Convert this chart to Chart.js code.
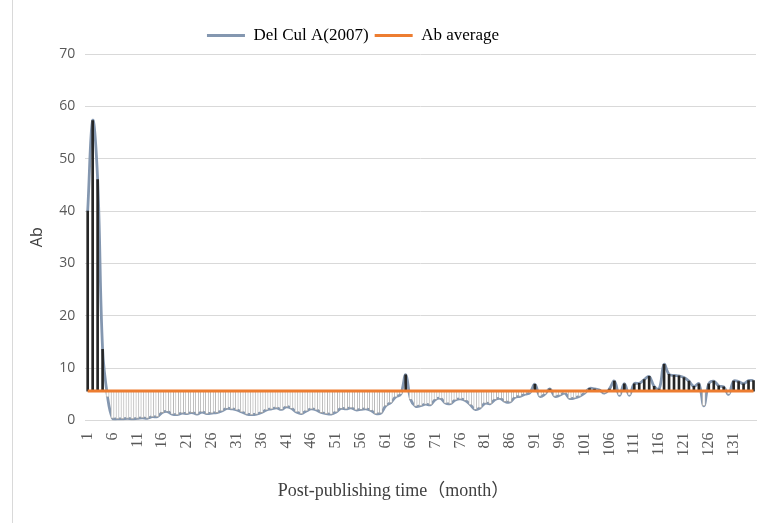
<!DOCTYPE html>
<html>
<head>
<meta charset="utf-8">
<script src="https://cdn.jsdelivr.net/npm/chart.js@4.4.1/dist/chart.umd.min.js"></script>
<style>
  body { margin: 0; background: #fff; }
  #wrap { position: relative; width: 767px; height: 523px; }
  #frame { position: absolute; left: 12px; top: 0; width: 1px; height: 523px; background: #d9d9d9; }
</style>
</head>
<body>
<div id="wrap">
  <div id="frame"></div>
  <canvas id="chart" width="767" height="523"></canvas>
</div>
<script>
// months after publishing (category axis)
const months = [
  1, 2, 3, 4, 5, 6, 7, 8, 9, 10, 11, 12, 13, 14, 15, 16, 17, 18, 19, 20,
  21, 22, 23, 24, 25, 26, 27, 28, 29, 30, 31, 32, 33, 34, 35, 36, 37, 38, 39, 40,
  41, 42, 43, 44, 45, 46, 47, 48, 49, 50, 51, 52, 53, 54, 55, 56, 57, 58, 59, 60,
  61, 62, 63, 64, 65, 66, 67, 68, 69, 70, 71, 72, 73, 74, 75, 76, 77, 78, 79, 80,
  81, 82, 83, 84, 85, 86, 87, 88, 89, 90, 91, 92, 93, 94, 95, 96, 97, 98, 99, 100,
  101, 102, 103, 104, 105, 106, 107, 108, 109, 110, 111, 112, 113, 114, 115, 116, 117, 118, 119, 120,
  121, 122, 123, 124, 125, 126, 127, 128, 129, 130, 131, 132, 133, 134, 135
];

// Ab of Del Cul A(2007)
const delCul = [
  40, 57.3, 46, 13.6, 4.5, 0.4, 0.3, 0.3, 0.4, 0.3,
  0.4, 0.5, 0.4, 0.7, 0.7, 1.5, 1.7, 1.2, 1.1, 1.4,
  1.3, 1.5, 1.2, 1.6, 1.3, 1.4, 1.5, 1.8, 2.3, 2.2,
  2.0, 1.6, 1.2, 1.1, 1.2, 1.5, 2.0, 2.2, 2.4, 2.1,
  2.6, 2.3, 1.6, 1.3, 1.8, 2.2, 2.0, 1.5, 1.3, 1.2,
  1.6, 2.3, 2.2, 2.4, 2.0, 2.1, 2.2, 1.9, 1.3, 1.4,
  2.8, 3.4, 4.5, 5.0, 8.7, 4.0, 2.7, 2.8, 3.1, 3.0,
  4.0, 4.2, 3.3, 3.2, 3.9, 4.1, 3.8, 3.0, 2.1, 2.4,
  3.3, 3.2, 4.0, 4.2, 3.6, 3.5, 4.4, 4.6, 5.0, 5.3,
  6.9, 4.6, 5.0, 6.0, 4.6, 4.8, 5.2, 4.2, 4.3, 4.6,
  5.2, 6.1, 6.0, 5.8, 5.2, 6.0, 7.5, 4.8, 7.0, 4.8,
  7.0, 7.1, 7.8, 8.4, 6.5, 6.0, 10.7, 8.8, 8.6, 8.5,
  8.2, 7.5, 6.5, 7.0, 2.8, 7.0, 7.5, 6.6, 6.4, 5.0,
  7.5, 7.4, 7.0, 7.6, 7.6
];

const abAverage = 5.6;
const yTicks = [0, 10, 20, 30, 40, 50, 60, 70];
const tickEvery = 5;

const avgLine = delCul.map(() => abAverage);
const upBars = delCul.map(v => v > abAverage ? [abAverage, v] : null);
const downBars = delCul.map(v => v <= abAverage ? [v, abAverage] : null);

// nudge the legend left like in the original
const legendShift = {
  id: 'legendShift',
  afterLayout(chart) {
    chart.legend.left -= 39;
    chart.legend.right -= 39;
  }
};

const serif = "'Liberation Serif', 'Times New Roman', 'Noto Sans CJK SC', serif";
const sans = "'Open Sans', 'Noto Sans', sans-serif";

new Chart(document.getElementById('chart'), {
  type: 'line',
  data: {
    labels: months,
    datasets: [
      {
        label: 'Del Cul A(2007)',
        data: delCul,
        borderColor: '#8497b0',
        backgroundColor: '#8497b0',
        borderWidth: 2.8,
        tension: 0.4,
        pointRadius: 0,
        order: 2
      },
      {
        label: 'Ab average',
        data: avgLine,
        borderColor: '#ed7d31',
        backgroundColor: '#ed7d31',
        borderWidth: 3,
        pointRadius: 0,
        order: 0
      },
      {
        type: 'bar',
        label: 'down',
        data: upBars,
        backgroundColor: '#262626',
        borderWidth: 0,
        barThickness: 2,
        grouped: false,
        order: 1
      },
      {
        type: 'bar',
        label: 'up',
        data: downBars,
        backgroundColor: '#ffffff',
        borderColor: '#a6a6a6',
        borderWidth: 0.8,
        borderSkipped: false,
        barThickness: 3,
        grouped: false,
        order: 1
      }
    ]
  },
  options: {
    responsive: false,
    animation: false,
    devicePixelRatio: 1,
    layout: { padding: { left: 28, right: 11, top: 21, bottom: 17 } },
    plugins: {
      tooltip: { enabled: false },
      legend: {
        position: 'top',
        labels: {
          filter: item => item.datasetIndex < 2,
          sort: (a, b) => a.datasetIndex - b.datasetIndex,
          boxWidth: 38,
          boxHeight: 3,
          padding: 6,
          color: '#404040',
          font: { family: serif, size: 17 },
          generateLabels(chart) {
            return chart.data.datasets.map((ds, i) => ({
              text: ds.label,
              fillStyle: ds.borderColor,
              strokeStyle: ds.borderColor,
              lineWidth: 0,
              datasetIndex: i,
              hidden: false
            }));
          }
        }
      }
    },
    scales: {
      x: {
        offset: true,
        afterFit: axis => { axis.paddingLeft = 0; axis.paddingRight = 0; },
        grid: { display: false },
        border: { display: true, color: '#d9d9d9' },
        ticks: {
          autoSkip: false,
          minRotation: 90,
          maxRotation: 90,
          padding: 4,
          color: '#595959',
          font: { family: serif, size: 16 },
          callback: (v, i) => i % tickEvery === 0 ? String(months[i]) : ''
        },
        title: {
          display: true,
          // trailing em spaces keep the title left of the plot centre, as in the original
          text: 'Post-publishing time（month）\u2003\u2003\u2003',
          color: '#404040',
          font: { family: serif, size: 18 },
          padding: { top: 20 }
        }
      },
      y: {
        min: yTicks[0],
        max: yTicks[yTicks.length - 1],
        afterBuildTicks: axis => { axis.ticks = yTicks.map(v => ({ value: v })); },
        grid: { color: '#d9d9d9', drawTicks: false },
        border: { display: false },
        ticks: {
          padding: 10,
          color: '#595959',
          font: { family: sans, size: 14 }
        },
        title: {
          display: true,
          text: 'Ab',
          color: '#404040',
          font: { family: sans, size: 16 },
          padding: { top: 0, bottom: 2 }
        }
      }
    }
  },
  plugins: [legendShift]
});
</script>
</body>
</html>
